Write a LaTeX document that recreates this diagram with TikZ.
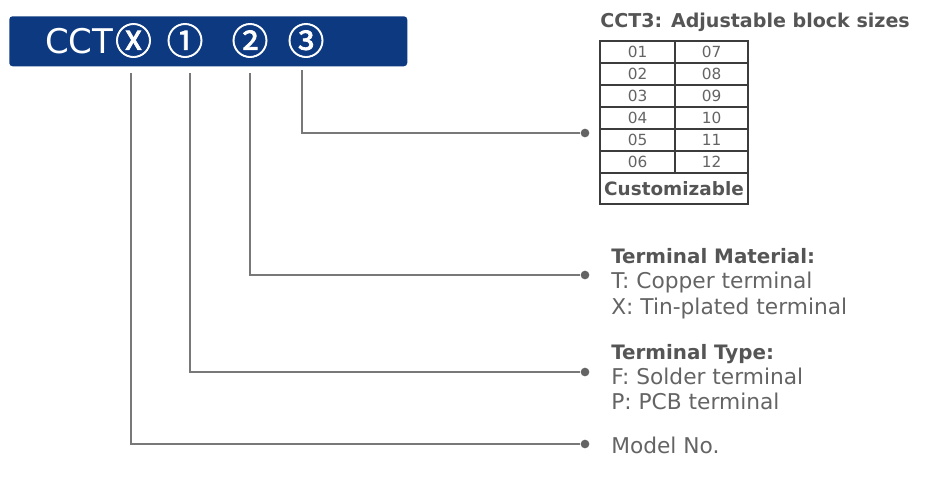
\documentclass[tikz,border=0pt]{standalone}
\usepackage{fontspec}
\setmainfont{DejaVu Sans}
\newfontfamily\cjkfont[FakeBold=2]{Noto Sans CJK SC}
\definecolor{banner}{RGB}{12,57,128}
\definecolor{linegray}{RGB}{120,120,120}
\definecolor{txtgray}{RGB}{100,100,100}
\definecolor{hdrgray}{RGB}{85,85,85}
\definecolor{tblgray}{RGB}{60,60,60}
\begin{document}
\begin{tikzpicture}[x=0.75pt,y=-0.75pt,
  glyph/.style={text=white,font=\fontsize{25.5}{30}\selectfont,inner sep=0pt},
  cglyph/.style={text=white,font=\cjkfont\fontsize{27.5}{30}\selectfont,inner sep=0pt},
  conn/.style={draw=linegray,line width=1.1pt},
  dot/.style={circle,fill=txtgray,inner sep=0pt,minimum size=6.5pt},
  hdr/.style={anchor=base west,inner sep=0pt,text=hdrgray,font=\fontsize{14.9}{18}\selectfont\bfseries},
  txt/.style={anchor=base west,inner sep=0pt,text=txtgray,font=\fontsize{16.3}{20}\selectfont},
  num/.style={inner sep=0pt,text=txtgray,font=\fontsize{11.5}{13}\selectfont},
  tbl/.style={draw=tblgray,line width=0.8pt}]
\useasboundingbox (0,0) rectangle (932,476);
% banner
\node[fill=banner,rounded corners=2.5pt,minimum width=298.5pt,minimum height=37.5pt,inner sep=0pt,anchor=north west] (banner) at (9,16) {};
\node[glyph,anchor=west] (cct) at (45,41) {CCT};
\node[cglyph] (gx) at (133.5,40.5) {Ⓧ};
\node[cglyph] (g1) at (185,40.5) {①};
\node[cglyph] (g2) at (250,40.5) {②};
\node[cglyph] (g3) at (306,40.5) {③};
% connector starts
\coordinate (sx) at (131,73);
\coordinate (s1) at (190,73);
\coordinate (s2) at (250,73);
\coordinate (s3) at (302,70);
% dots
\node[dot] (d3) at (585,133) {};
\node[dot] (d2) at (585,275) {};
\node[dot] (d1) at (585,372) {};
\node[dot] (dx) at (585,444) {};
\draw[conn] (s3) |- (d3);
\draw[conn] (s2) |- (d2);
\draw[conn] (s1) |- (d1);
\draw[conn] (sx) |- (dx);
% table
\node[anchor=base west,inner sep=0pt,text=hdrgray,font=\fontsize{14.3}{17}\selectfont\bfseries] (title) at (600,27) {CCT3: Adjustable block sizes};
\draw[tbl] (600,41) rectangle (748,204);
\draw[tbl] (675,41) -- (675,173);
\foreach \yy in {63,85,107,129,151,173} \draw[tbl] (600,\yy) -- (748,\yy);
\node[num] (n01) at (637.5,52) {01};
\node[num] (n02) at (637.5,74) {02};
\node[num] (n03) at (637.5,96) {03};
\node[num] (n04) at (637.5,118) {04};
\node[num] (n05) at (637.5,140) {05};
\node[num] (n06) at (637.5,162) {06};
\node[num] (n07) at (711.5,52) {07};
\node[num] (n08) at (711.5,74) {08};
\node[num] (n09) at (711.5,96) {09};
\node[num] (n10) at (711.5,118) {10};
\node[num] (n11) at (711.5,140) {11};
\node[num] (n12) at (711.5,162) {12};
\node[inner sep=0pt,text=hdrgray,font=\fontsize{13.8}{16}\selectfont\bfseries] (cust) at (674,189) {Customizable};
% texts
\node[hdr] (mat) at (611,263) {Terminal Material:};
\node[txt] (matT) at (611,288) {T: Copper terminal};
\node[txt] (matX) at (611,314) {X: Tin-plated terminal};
\node[hdr] (typ) at (611,359) {Terminal Type:};
\node[txt] (typF) at (611,384) {F: Solder terminal};
\node[txt] (typP) at (611,409) {P: PCB terminal};
\node[txt] (model) at (611,453) {Model No.};
\end{tikzpicture}
\end{document}
